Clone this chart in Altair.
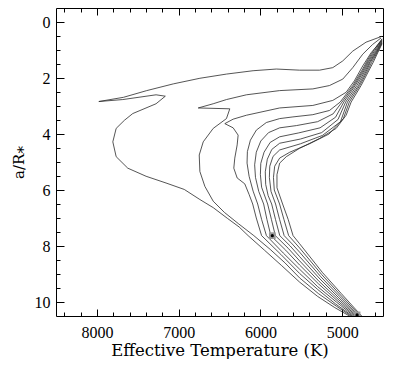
import altair as alt
import pandas as pd

# Effective temperature (K), a/R* pairs (outermost first)
c1 = [(4512,0.51),(4707,0.72),(4870,1.04),(4992,1.39),(5114,1.63),(5276,1.72),(5520,1.72),(5805,1.68),
      (6089,1.74),(6415,1.86),(6740,2.01),(7065,2.21),(7390,2.45),(7675,2.69),(7976,2.84),(7683,2.77),
      (7276,2.60),(7163,2.65),(7276,2.92),(7561,3.27),(7663,3.51),(7764,3.80),(7805,4.28),(7764,4.81),
      (7622,5.22),(7398,5.51),(7154,5.75),(6931,5.98),(6740,6.34),(6577,6.63),(6400,7.02),(6260,7.32),
      (6150,7.63),(5950,8.15),(5740,8.70),(5520,9.29),(5300,9.80),(5090,10.20),(4880,10.55)]
c2 = [(4524,0.57),(4626,0.80),(4748,1.15),(4870,1.63),(4992,2.04),(5155,2.27),(5358,2.39),(5764,2.45),
      (6171,2.60),(6415,2.77),(6577,2.92),(6760,3.07),(6374,3.10),(6415,3.45),(6577,3.80),(6699,4.28),
      (6748,4.75),(6740,5.34),(6679,5.87),(6577,6.40),(6440,6.80),(6270,7.20),(6080,7.63),(5880,8.12),
      (5700,8.60),(5520,9.14),(5290,9.70),(5070,10.15),(4865,10.55)]
c3 = [(4524,0.68),(4646,1.10),(4748,1.57),(4850,2.10),(4951,2.51),(5114,2.80),(5358,2.98),(5764,3.07),
      (6171,3.33),(6333,3.47),(6435,3.63),(6333,3.78),(6272,4.04),(6284,4.39),(6313,4.86),(6325,5.22),
      (6284,5.57),(6191,5.78),(6138,6.16),(6094,6.50),(6050,7.00),(5985,7.63),(5750,8.30),(5520,8.98),
      (5300,9.55),(5080,10.07),(4850,10.55)]
c4 = [(4512,0.60),(4606,0.98),(4687,1.35),(4748,1.68),(4870,2.27),(5024,2.86),(5155,3.16),(5358,3.31),
      (5602,3.39),(5764,3.45),(5927,3.59),(6049,3.86),(6122,4.22),(6159,4.63),(6163,5.04),(6138,5.51),
      (6089,6.04),(6033,6.50),(5985,7.05),(5926,7.63),(5720,8.25),(5520,8.83),(5300,9.45),(5070,10.00),
      (4835,10.55)]
c5 = [(4512,0.63),(4600,1.02),(4680,1.38),(4734,1.68),(4855,2.27),(5002,2.86),(5110,3.28),(5300,3.56),
      (5560,3.70),(5764,3.78),(5900,3.95),(5995,4.25),(6050,4.65),(6070,5.10),(6060,5.55),(6020,6.05),
      (5960,6.50),(5920,7.05),(5872,7.63),(5690,8.15),(5520,8.68),(5290,9.35),(5060,9.95),(4820,10.55)]
c6 = [(4512,0.66),(4592,1.05),(4672,1.40),(4720,1.68),(4840,2.27),(4980,2.86),(5080,3.40),(5270,3.78),
      (5530,3.96),(5764,4.10),(5880,4.30),(5955,4.65),(5995,5.05),(6000,5.45),(5985,5.90),(5911,6.50),
      (5865,7.05),(5817,7.63),(5660,8.08),(5520,8.53),(5280,9.27),(5050,9.90),(4805,10.55)]
c7 = [(4512,0.69),(4585,1.07),(4662,1.42),(4706,1.68),(4820,2.27),(4957,2.86),(5050,3.48),(5250,3.95),
      (5510,4.18),(5764,4.33),(5860,4.55),(5915,4.90),(5940,5.35),(5935,5.80),(5905,6.20),(5862,6.50),
      (5815,7.05),(5763,7.63),(5635,8.00),(5520,8.38),(5270,9.18),(5040,9.85),(4790,10.55)]
c8 = [(4512,0.72),(4578,1.08),(4655,1.44),(4692,1.68),(4800,2.27),(4935,2.86),(5020,3.56),(5240,4.05),
      (5510,4.35),(5764,4.57),(5845,4.80),(5885,5.15),(5890,5.55),(5870,6.05),(5814,6.50),(5765,7.05),
      (5709,7.63),(5610,7.93),(5520,8.22),(5260,9.10),(5030,9.80),(4775,10.55)]
c9 = [(4512,0.75),(4571,1.09),(4640,1.45),(4677,1.68),(4785,2.27),(4912,2.86),(4985,3.45),(5160,4.00),
      (5400,4.35),(5640,4.65),(5764,4.86),(5825,5.15),(5840,5.55),(5830,6.00),(5765,6.50),(5712,7.05),
      (5654,7.63),(5520,8.07),(5250,9.02),(5020,9.75),(4760,10.55)]
c10 = [(4512,0.78),(4565,1.10),(4618,1.43),(4663,1.68),(4768,2.27),(4890,2.86),(4951,3.33),(5073,3.80),
       (5276,4.16),(5520,4.51),(5683,4.81),(5764,5.04),(5797,5.45),(5797,5.92),(5728,6.50),(5660,7.05),
       (5600,7.63),(5520,7.92),(5240,8.95),(5010,9.70),(4745,10.55)]

marker_T = [5854, 4817]
marker_a = [7.63, 10.46]

x_major = [5000, 6000, 7000, 8000]
x_minor = [4600, 4800, 5200, 5400, 5600, 5800, 6200, 6400, 6600, 6800, 7200, 7400, 7600, 7800, 8200, 8400]
y_major = [0, 2, 4, 6, 8, 10]
y_minor = [0.5, 1, 1.5, 2.5, 3, 3.5, 4.5, 5, 5.5, 6.5, 7, 7.5, 8.5, 9, 9.5]

curves = [c1, c2, c3, c4, c5, c6, c7, c8, c9, c10]
rows = []
for i, c in enumerate(curves):
    for j, (t, a) in enumerate(c):
        rows.append({"T": t, "a": a, "curve": f"c{i+1}", "order": j})
df = pd.DataFrame(rows)
mk = pd.DataFrame({"T": marker_T, "a": marker_a})

W, H = 327, 308
xs = alt.Scale(domain=[4500, 8500], reverse=True, nice=False, zero=False)
ys = alt.Scale(domain=[-0.5, 10.5], reverse=True, nice=False, zero=False)

main = alt.Chart(df).mark_line(color="#2a2a2a", strokeWidth=0.8, clip=True).encode(
    x=alt.X("T:Q", scale=xs, axis=alt.Axis(
        orient="bottom", values=x_major, format="d", ticks=False, tickSize=0, domain=False, grid=False,
        labelFont="Liberation Serif", labelFontSize=16, labelPadding=8, labelColor="black",
        title="Effective Temperature (K)", titleFont="DejaVu Serif", titleFontSize=16.5,
        titleFontWeight="normal", titleColor="black", titlePadding=2)),
    y=alt.Y("a:Q", scale=ys, axis=alt.Axis(
        orient="left", values=y_major, format="d", ticks=False, tickSize=0, domain=False, grid=False,
        labelFont="Liberation Serif", labelFontSize=16, labelPadding=6, labelColor="black",
        title="a/R⁎", titleFont="DejaVu Serif", titleFontSize=15,
        titleFontWeight="normal", titleColor="black", titlePadding=8)),
    detail="curve:N",
    order="order:Q",
)


def tick_layer(xorient, xvals, xsize, yorient, yvals, ysize):
    return alt.Chart(mk).mark_point(opacity=0).encode(
        x=alt.X("T:Q", scale=xs, axis=alt.Axis(
            orient=xorient, offset=-H, values=xvals, tickSize=xsize, labels=False,
            domain=False, grid=False, title=None, tickColor="black", tickWidth=1)),
        y=alt.Y("a:Q", scale=ys, axis=alt.Axis(
            orient=yorient, offset=-W, values=yvals, tickSize=ysize, labels=False,
            domain=False, grid=False, title=None, tickColor="black", tickWidth=1)),
    )


t1 = tick_layer("top", x_major, 7, "right", y_major, 8)
t2 = tick_layer("top", x_minor, 4, "right", y_minor, 4)
t3 = tick_layer("bottom", x_major, 7, "left", y_major, 8)
t4 = tick_layer("bottom", x_minor, 4, "left", y_minor, 4)

sq = alt.Chart(mk).mark_point(shape="square", filled=True, color="#9a9a9a", size=45, opacity=1, clip=True).encode(
    x=alt.X("T:Q", scale=xs, axis=None), y=alt.Y("a:Q", scale=ys, axis=None))
dot = alt.Chart(mk).mark_point(shape="circle", filled=True, color="black", size=10, opacity=1, clip=True).encode(
    x=alt.X("T:Q", scale=xs, axis=None), y=alt.Y("a:Q", scale=ys, axis=None))

chart = alt.layer(main, t1, t2, t3, t4, sq, dot).resolve_scale(
    x="independent", y="independent"
).properties(
    width=W, height=H,
    padding={"left": 48, "top": 0, "right": 12, "bottom": 43},
    autosize=alt.AutoSizeParams(type="none"),
    background="white",
).configure_view(stroke="black", strokeWidth=1)

chart.save("out.html", embed_options={"renderer": "svg", "actions": False})
